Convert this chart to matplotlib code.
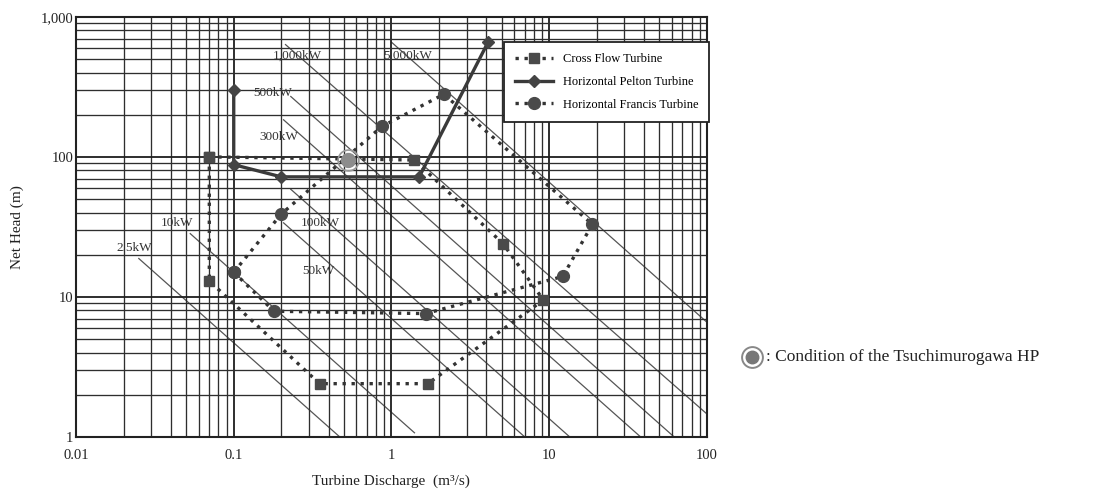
import matplotlib
matplotlib.use('Agg')
import matplotlib.pyplot as plt
from matplotlib.lines import Line2D
from matplotlib.ticker import FixedLocator, LogLocator, NullFormatter

plt.rcParams['font.family'] = ['Liberation Serif', 'DejaVu Serif']

# turbine application ranges (discharge m3/s, net head m)
cross_q = [0.07, 1.4, 5.1, 9.2, 1.7, 0.35, 0.07, 0.07]
cross_h = [100, 95, 24, 9.5, 2.4, 2.4, 13, 100]
pelton_q = [0.1, 0.1, 0.2, 1.5, 4.1]
pelton_h = [300, 88, 72, 72, 660]
francis_q = [0.1, 0.18, 1.65, 12.2, 18.8, 2.15, 0.87, 0.2, 0.1]
francis_h = [15, 7.9, 7.6, 14, 33, 280, 165, 39, 15]

# site condition
site_q = [0.53]
site_h = [95]

# output lines: start / end points (Q, H) and label positions
power_labels = ['2.5kW', '10kW', '50kW', '100kW', '300kW', '500kW', '1,000kW', '5,000kW']
power_q0 = [0.025, 0.053, 0.207, 0.23, 0.207, 0.23, 0.213, 1.0]
power_h0 = [18.8, 28.3, 33.8, 58.7, 184, 270, 634, 660]
power_q1 = [0.47, 1.4, 7.0, 13.5, 38, 62, 100, 100]
power_h1 = [1.0, 1.07, 1.0, 1.0, 1.0, 1.0, 1.46, 6.6]
label_q = [0.0233, 0.0435, 0.345, 0.356, 0.193, 0.177, 0.254, 1.26]
label_h = [22.5, 33.5, 15.4, 33.5, 139, 288, 524, 524]

fig = plt.figure(figsize=(10.94, 4.92), dpi=100)
ax = fig.add_axes([0.0695, 0.112, 0.5766, 0.8537])
ax.set_xscale('log')
ax.set_yscale('log')
ax.set_xlim(0.01, 100)
ax.set_ylim(1, 1000)

ax.xaxis.set_major_locator(FixedLocator([0.01, 0.1, 1, 10, 100]))
ax.yaxis.set_major_locator(FixedLocator([1, 10, 100, 1000]))
ax.xaxis.set_minor_locator(LogLocator(base=10, subs=range(2, 10)))
ax.yaxis.set_minor_locator(LogLocator(base=10, subs=range(2, 10)))
ax.xaxis.set_minor_formatter(NullFormatter())
ax.yaxis.set_minor_formatter(NullFormatter())
ax.set_xticklabels(['0.01', '0.1', '1', '10', '100'])
ax.set_yticklabels(['1', '10', '100', '1,000'])
ax.tick_params(which='both', length=0, labelsize=10.5, colors='#222222')
ax.tick_params(axis='x', pad=9)
ax.tick_params(axis='y', pad=2)

ax.grid(which='major', color='#1e1e1e', linewidth=1.3, zorder=0)
ax.grid(which='minor', color='#2e2e2e', linewidth=0.95, zorder=0)
for s in ax.spines.values():
    s.set_color('#222222')
    s.set_linewidth(1.5)

for i in range(len(power_labels)):
    ax.plot([power_q0[i], power_q1[i]], [power_h0[i], power_h1[i]],
            color='#555555', linewidth=0.9, zorder=1)
    ax.text(label_q[i], label_h[i], power_labels[i], fontsize=9.5,
            color='#333333', ha='center', va='center', zorder=2)

dot = (0, (1, 1.7))
ax.plot(cross_q, cross_h, linestyle=dot, linewidth=2.4, color='#333333',
        marker='s', markersize=7.5, markerfacecolor='#4a4a4a',
        markeredgecolor='#4a4a4a', label='Cross Flow Turbine', zorder=4)
ax.plot(pelton_q, pelton_h, linestyle='-', linewidth=2.4, color='#3a3a3a',
        marker='D', markersize=6, markerfacecolor='#444444',
        markeredgecolor='#444444', label='Horizontal Pelton Turbine', zorder=5)
ax.plot(francis_q, francis_h, linestyle=dot, linewidth=2.4, color='#333333',
        marker='o', markersize=8.5, markerfacecolor='#4a4a4a',
        markeredgecolor='#4a4a4a', label='Horizontal Francis Turbine', zorder=4)

ax.plot(site_q, site_h, linestyle='none', marker='o', markersize=15,
        markerfacecolor='none', markeredgecolor='#999999', markeredgewidth=1.2, zorder=6)
ax.plot(site_q, site_h, linestyle='none', marker='o', markersize=10,
        markerfacecolor='#8c8c8c', markeredgecolor='#8c8c8c', zorder=6)

leg = ax.legend(loc='upper right', bbox_to_anchor=(1.004, 0.94), fontsize=9,
                frameon=True, fancybox=False, framealpha=1, edgecolor='#222222',
                handlelength=3.0, borderpad=0.9, labelspacing=0.85,
                borderaxespad=0)
leg.get_frame().set_linewidth(1.3)
leg.set_zorder(10)

ax.set_xlabel('Turbine Discharge  (m\u00b3/s)', fontsize=11, color='#222222', labelpad=9)
ax.set_ylabel('Net Head (m)', fontsize=11, color='#222222', labelpad=12)

# site marker note outside the axes
fig.add_artist(Line2D([752 / 1094], [1 - 357 / 492], transform=fig.transFigure,
                      marker='o', markersize=15, markerfacecolor='none',
                      markeredgecolor='#888888', markeredgewidth=1.4))
fig.add_artist(Line2D([752 / 1094], [1 - 357 / 492], transform=fig.transFigure,
                      marker='o', markersize=9, markerfacecolor='#777777',
                      markeredgecolor='#777777'))
fig.text(766 / 1094, 1 - 357 / 492, ': Condition of the Tsuchimurogawa HP',
         fontsize=12.5, color='#222222', ha='left', va='center')

fig.savefig('out.png', dpi=100)
